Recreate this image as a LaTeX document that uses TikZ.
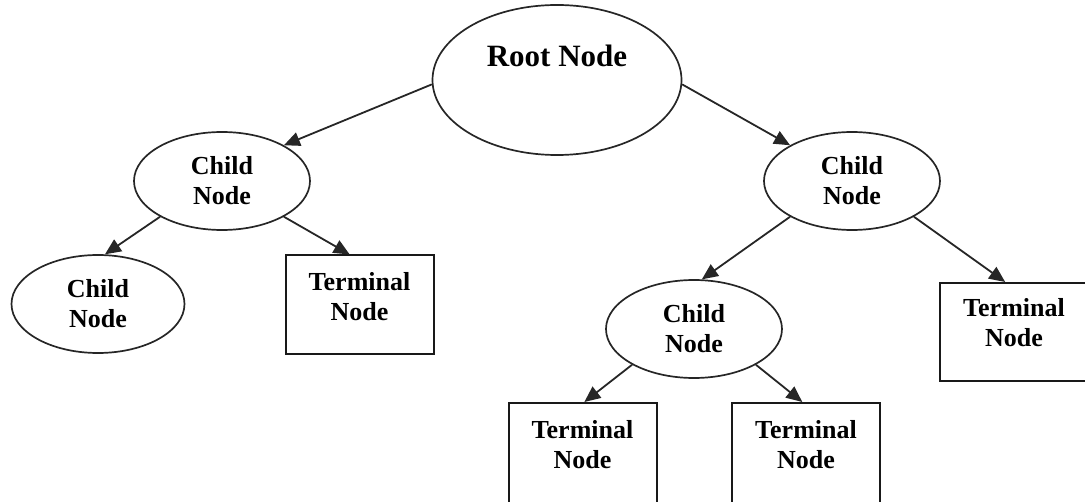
\documentclass[tikz,border=0pt]{standalone}
\usepackage{fontspec}
\setmainfont{Liberation Serif}
\usetikzlibrary{shapes.geometric,arrows.meta}

\tikzset{
  treeellipse/.style={ellipse, draw=black!85, line width=1.7pt, inner sep=0pt,
    minimum width=176pt, minimum height=98pt, align=center,
    font=\fontsize{26}{30}\selectfont\bfseries},
  termbox/.style={rectangle, draw=black!90, line width=2pt, inner sep=0pt,
    minimum width=148pt, minimum height=99pt},
  termtext/.style={align=center, inner sep=0pt,
    font=\fontsize{26}{30}\selectfont\bfseries},
  link/.style={draw=black!85, line width=1.8pt,
    -{Triangle[length=16pt,width=14pt]}}
}

\begin{document}
\begin{tikzpicture}[x=1pt,y=-1pt]
  \useasboundingbox (0,0) rectangle (1085,502);
  \clip (0,0) rectangle (1085,502);

  % root
  \node[ellipse, draw=black!85, line width=1.7pt, inner sep=0pt,
        minimum width=249pt, minimum height=150pt] (root) at (557,80) {};
  \node[inner sep=0pt, font=\fontsize{31}{34}\selectfont\bfseries]
        (rootlabel) at (557,56) {Root Node};

  % inner nodes
  \node[treeellipse] (lc)  at (222,181) {Child\\Node};
  \node[treeellipse] (rc)  at (852,181) {Child\\Node};
  \node[treeellipse, minimum width=173pt] (llc) at (98,304) {Child\\Node};
  \node[treeellipse] (mc)  at (694,329) {Child\\Node};

  % terminal nodes (the lower ones run past the bottom edge)
  \node[termbox] (t1) at (359.5,305) {};
  \node[termtext] (t1text) at (359.5,297) {Terminal\\Node};
  \node[termbox, minimum height=98pt] (t2) at (1014,332) {};
  \node[termtext] (t2text) at (1014,323) {Terminal\\Node};
  \node[termbox, minimum height=104pt] (t3) at (582.5,455) {};
  \node[termtext] (t3text) at (582.5,445) {Terminal\\Node};
  \node[termbox, minimum height=104pt] (t4) at (806,455) {};
  \node[termtext] (t4text) at (806,445) {Terminal\\Node};

  % connectors
  \draw[link] (root.182) -- (lc.30);
  \draw[link] (root.-2)  -- (rc.150);
  \draw[link] (lc.210)   -- (llc.82);
  \draw[link] (lc.330)   -- (t1.101);
  \draw[link] (rc.210)   -- (mc.81);
  \draw[link] (rc.330)   -- (t2.100);
  \draw[link] (mc.210)   -- (t3.88);
  \draw[link] (mc.330)   -- (t4.94);
\end{tikzpicture}
\end{document}
